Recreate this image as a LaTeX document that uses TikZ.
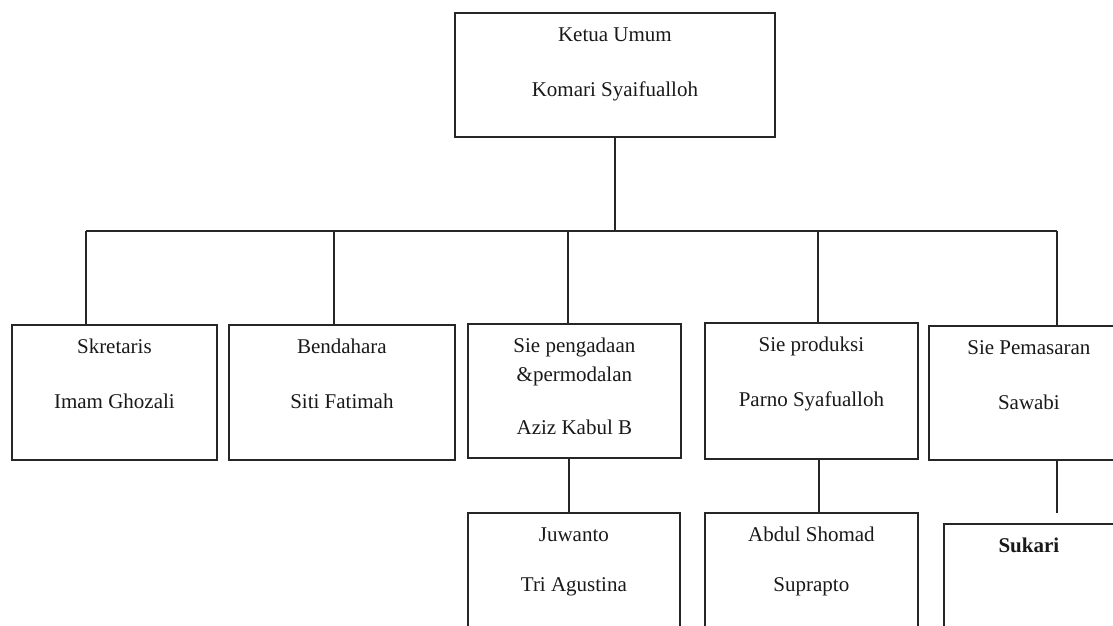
\documentclass[tikz,border=0pt]{standalone}
\usepackage{fontspec}
\setmainfont{Liberation Serif}
\usetikzlibrary{positioning}

\begin{document}
\begin{tikzpicture}[x=1pt,y=-1pt,line width=1.8pt,
	kotak/.style={draw=black!85,anchor=north west,inner sep=0pt},
	teks/.style={align=center,inner sep=0pt,font=\fontsize{21}{29}\selectfont,text=black!90},
	garis/.style={draw=black!85}]
	\clip (0,0) rectangle (1113,625);
	\fill[white] (0,0) rectangle (1113,625);
	% ketua umum
	\node[kotak,minimum width=320,minimum height=124] (ketua) at (454,12) {};
	\node[teks,below=8pt of ketua.north] (ketuaT) {\strut Ketua Umum\\[26pt]Komari Syaifualloh};
	% baris pertama
	\node[kotak,minimum width=205,minimum height=135] (sek) at (11,324) {};
	\node[kotak,minimum width=226,minimum height=135] (bend) at (228,324) {};
	\node[kotak,minimum width=213,minimum height=134] (pengadaan) at (467,323) {};
	\node[kotak,minimum width=213,minimum height=136] (produksi) at (704,322) {};
	\node[kotak,minimum width=200,minimum height=134] (pemasaran) at (928,325) {};
	\node[teks,below=8pt of sek.north] (sekT) {\strut Skretaris\\[26pt]Imam Ghozali};
	\node[teks,below=8pt of bend.north] (bendT) {\strut Bendahara\\[26pt]Siti Fatimah};
	\node[teks,below=8pt of pengadaan.north] (pengadaanT) {\strut Sie pengadaan\\\&permodalan\\[24pt]Aziz Kabul B};
	\node[teks,below=8pt of produksi.north] (produksiT) {\strut Sie produksi\\[26pt]Parno Syafualloh};
	\node[teks,below=8pt of pemasaran.north] (pemasaranT) {\strut Sie Pemasaran\\[26pt]Sawabi};
	% baris kedua
	\node[kotak,minimum width=212,minimum height=130] (juwanto) at (467,512) {};
	\node[kotak,minimum width=213,minimum height=130] (abdul) at (704,512) {};
	\node[kotak,minimum width=173,minimum height=120] (sukari) at (943,523) {};
	\node[teks,below=8pt of juwanto.north] (juwantoT) {\strut Juwanto\\[21pt]Tri Agustina};
	\node[teks,below=8pt of abdul.north] (abdulT) {\strut Abdul Shomad\\[21pt]Suprapto};
	\node[teks,font=\fontsize{21}{29}\selectfont\bfseries,below=8pt of sukari.north,xshift=-1.5pt] (sukariT) {\strut Sukari};
	% garis
	\coordinate (barL) at (86,231);
	\coordinate (barR) at (1057,231);
	\draw[garis] (ketua.south) -- (ketua.south |- barL);
	\draw[garis] (barL) -- (barR);
	\foreach \x/\n in {86/sek,334/bend,568/pengadaan,818/produksi,1057/pemasaran}{
		\coordinate (d\n) at (\x,231);
		\draw[garis] (d\n) -- (d\n |- \n.north);
	}
	\draw[garis] ([xshift=-5.5pt]pengadaan.south) -- ([xshift=-5.5pt]pengadaan.south |- juwanto.north);
	\draw[garis] ([xshift=7.5pt]produksi.south) -- ([xshift=7.5pt]produksi.south |- abdul.north);
	\draw[garis,shorten >=10pt] ([xshift=28pt]pemasaran.south) -- ([xshift=28pt]pemasaran.south |- sukari.north);
\end{tikzpicture}
\end{document}
